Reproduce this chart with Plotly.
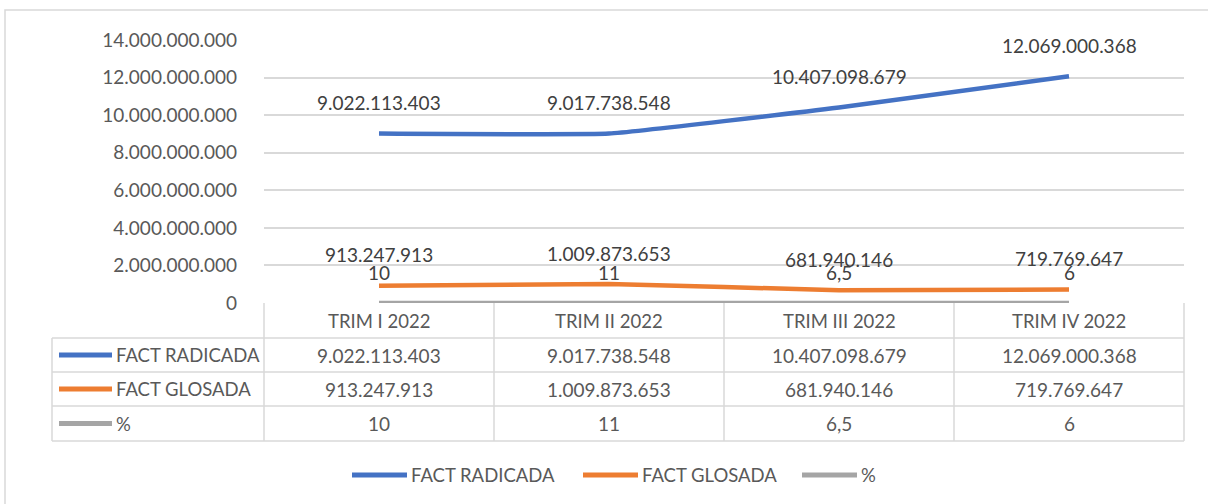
import plotly.graph_objects as go

categories = ["TRIM I 2022", "TRIM II 2022", "TRIM III 2022", "TRIM IV 2022"]
fact_radicada = [9022113403, 9017738548, 10407098679, 12069000368]
fact_glosada = [913247913, 1009873653, 681940146, 719769647]
pct = [10, 11, 6.5, 6]
series_names = ["FACT RADICADA", "FACT GLOSADA", "%"]
colors = ["#4472C4", "#ED7D31", "#A5A5A5"]

W, H = 1208, 504
FONT = "Lato"
TXT = "#595959"
LBL = "#404040"
GRID = "#D9D9D9"
FS = 19
FS_TXT = 18.5


def fmt(v):
    if isinstance(v, float) and not v.is_integer():
        return f"{v:.1f}".replace(".", ",")
    return f"{int(v):,}".replace(",", ".")


def px(x):
    return x / W


def py(y):
    return 1 - y / H


plot_l, plot_r, plot_t, plot_b = 264, 1184, 40, 303

fig = go.Figure()
all_series = [fact_radicada, fact_glosada, pct]
for name, vals, col in zip(series_names, all_series, colors):
    fig.add_trace(go.Scatter(
        x=list(range(len(categories))), y=vals, mode="lines", name=name,
        line=dict(color=col, width=4.5, shape="spline", smoothing=0.3),
        cliponaxis=False, showlegend=False, hoverinfo="skip"))

annotations = []
# data labels
for vals in all_series:
    for i, v in enumerate(vals):
        annotations.append(dict(x=i, y=v, xref="x", yref="y", text=fmt(v),
                                xanchor="center", yanchor="middle",
                                showarrow=False, yshift=31,
                                font=dict(family=FONT, size=FS, color=LBL)))

shapes = []
# outer border
shapes.append(dict(type="rect", xref="paper", yref="paper",
                   x0=px(5), x1=px(1212), y0=py(10), y1=py(510),
                   line=dict(color=GRID, width=1.5), layer="below"))

# data table
row_lines = [338, 372, 406, 441]
col_edges = [plot_l + (plot_r - plot_l) * k / 4 for k in range(5)]
tbl_left = 52
for yv in row_lines:
    shapes.append(dict(type="line", xref="paper", yref="paper",
                       x0=px(tbl_left), x1=px(plot_r), y0=py(yv), y1=py(yv),
                       line=dict(color=GRID, width=1.5)))
shapes.append(dict(type="line", xref="paper", yref="paper",
                   x0=px(tbl_left), x1=px(tbl_left), y0=py(338), y1=py(441),
                   line=dict(color=GRID, width=1.5)))
for xv in col_edges:
    shapes.append(dict(type="line", xref="paper", yref="paper",
                       x0=px(xv), x1=px(xv), y0=py(plot_b), y1=py(441),
                       line=dict(color=GRID, width=1.5)))

header_y = (plot_b + 338) / 2
for i, c in enumerate(categories):
    annotations.append(dict(x=i, y=py(header_y), xref="x", yref="paper", text=c,
                            xanchor="center", yanchor="middle",
                            showarrow=False, font=dict(family=FONT, size=FS_TXT, color=TXT)))
row_centers = [(338 + 372) / 2, (372 + 406) / 2, (406 + 441) / 2]
for name, vals, col, rc in zip(series_names, all_series, colors, row_centers):
    shapes.append(dict(type="line", xref="paper", yref="paper",
                       x0=px(59), x1=px(112), y0=py(rc), y1=py(rc),
                       line=dict(color=col, width=5)))
    annotations.append(dict(x=px(114), y=py(rc), xref="paper", yref="paper", text=name,
                            xanchor="left", yanchor="middle", showarrow=False,
                            font=dict(family=FONT, size=FS_TXT, color=TXT)))
    for i, v in enumerate(vals):
        annotations.append(dict(x=i, y=py(rc), xref="x", yref="paper", text=fmt(v),
                                xanchor="center", yanchor="middle",
                                showarrow=False, font=dict(family=FONT, size=FS, color=TXT)))

# bottom legend
leg_y = 475
leg_x = [352, 583, 802]
for name, col, lx in zip(series_names, colors, leg_x):
    shapes.append(dict(type="line", xref="paper", yref="paper",
                       x0=px(lx), x1=px(lx + 55), y0=py(leg_y), y1=py(leg_y),
                       line=dict(color=col, width=5)))
    annotations.append(dict(x=px(lx + 57), y=py(leg_y), xref="paper", yref="paper", text=name,
                            xanchor="left", yanchor="middle", showarrow=False,
                            font=dict(family=FONT, size=FS_TXT, color=TXT)))

fig.update_layout(
    width=W, height=H, margin=dict(l=0, r=0, t=0, b=0, pad=0, autoexpand=False),
    paper_bgcolor="white", plot_bgcolor="white",
    separators=",.",
    font=dict(family=FONT, size=FS, color=TXT),
    xaxis=dict(domain=[px(plot_l), px(plot_r)], range=[-0.5, 3.5], automargin=False,
               showticklabels=False, showgrid=False, zeroline=False, showline=False,
               fixedrange=True),
    yaxis=dict(domain=[py(plot_b), py(plot_t)], range=[0, 14e9], dtick=2e9, automargin=False,
               tickformat=",d", showgrid=True, gridcolor=GRID, gridwidth=1.5,
               zeroline=False, showline=False, ticks="", ticklabelstandoff=26,
               tickfont=dict(family=FONT, size=FS, color=TXT)),
    shapes=shapes, annotations=annotations, showlegend=False,
)

fig.write_html("out.html", config={"displayModeBar": False},
               post_script="document.body.style.margin='0';")
